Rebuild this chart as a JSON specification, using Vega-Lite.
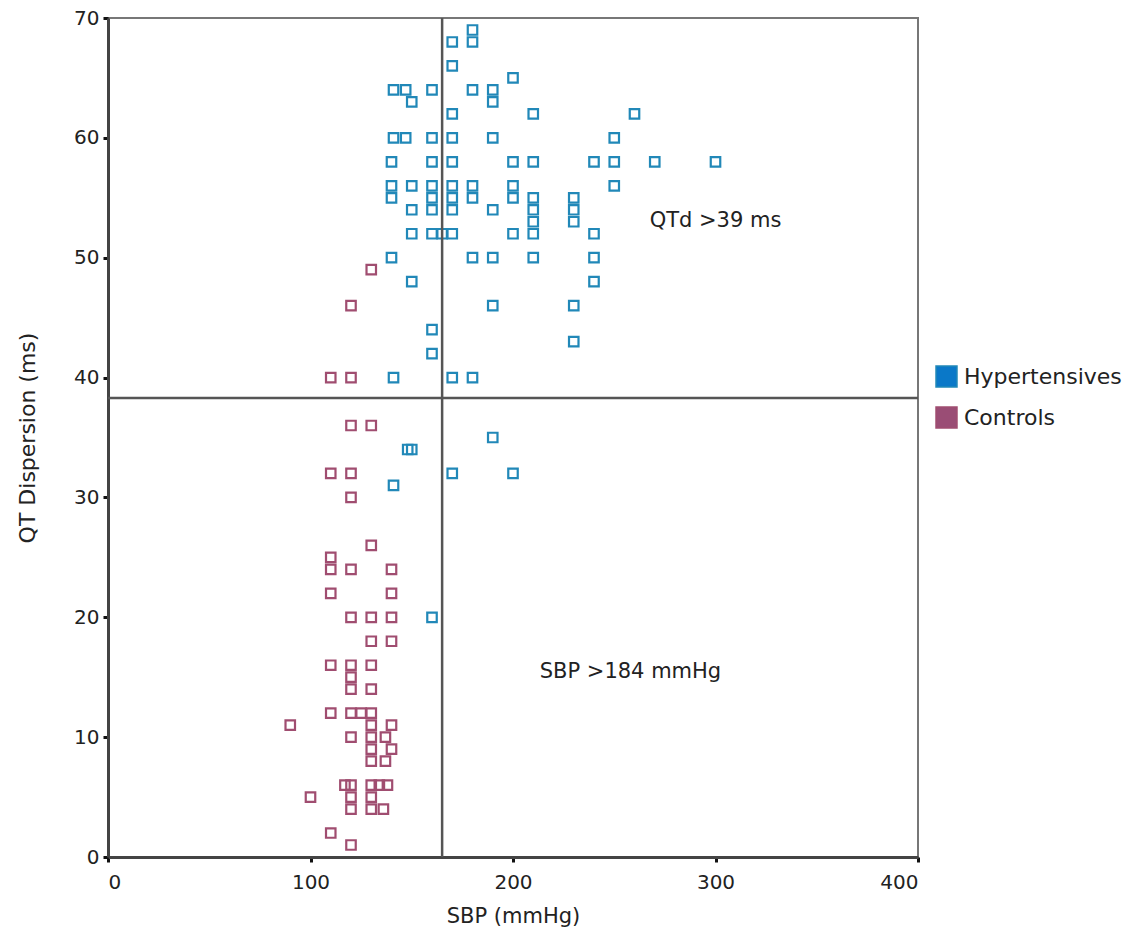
{
  "$schema": "https://vega.github.io/schema/vega-lite/v6.json",
  "autosize": "none",
  "width": 810,
  "height": 839,
  "padding": {"left": 108, "top": 18, "right": 215, "bottom": 71},
  "background": "white",
  "config": {
    "view": {"stroke": "#777", "strokeWidth": 2},
    "font": "DejaVu Sans"
  },
  "datasets": {
    "pts": [
      {"sbp": 180, "qtd": 69, "group": "Hypertensives"},
      {"sbp": 170, "qtd": 68, "group": "Hypertensives"},
      {"sbp": 180, "qtd": 68, "group": "Hypertensives"},
      {"sbp": 170, "qtd": 66, "group": "Hypertensives"},
      {"sbp": 200, "qtd": 65, "group": "Hypertensives"},
      {"sbp": 141, "qtd": 64, "group": "Hypertensives"},
      {"sbp": 147, "qtd": 64, "group": "Hypertensives"},
      {"sbp": 160, "qtd": 64, "group": "Hypertensives"},
      {"sbp": 180, "qtd": 64, "group": "Hypertensives"},
      {"sbp": 190, "qtd": 64, "group": "Hypertensives"},
      {"sbp": 150, "qtd": 63, "group": "Hypertensives"},
      {"sbp": 190, "qtd": 63, "group": "Hypertensives"},
      {"sbp": 170, "qtd": 62, "group": "Hypertensives"},
      {"sbp": 210, "qtd": 62, "group": "Hypertensives"},
      {"sbp": 260, "qtd": 62, "group": "Hypertensives"},
      {"sbp": 141, "qtd": 60, "group": "Hypertensives"},
      {"sbp": 147, "qtd": 60, "group": "Hypertensives"},
      {"sbp": 160, "qtd": 60, "group": "Hypertensives"},
      {"sbp": 170, "qtd": 60, "group": "Hypertensives"},
      {"sbp": 190, "qtd": 60, "group": "Hypertensives"},
      {"sbp": 250, "qtd": 60, "group": "Hypertensives"},
      {"sbp": 140, "qtd": 58, "group": "Hypertensives"},
      {"sbp": 160, "qtd": 58, "group": "Hypertensives"},
      {"sbp": 170, "qtd": 58, "group": "Hypertensives"},
      {"sbp": 200, "qtd": 58, "group": "Hypertensives"},
      {"sbp": 210, "qtd": 58, "group": "Hypertensives"},
      {"sbp": 240, "qtd": 58, "group": "Hypertensives"},
      {"sbp": 250, "qtd": 58, "group": "Hypertensives"},
      {"sbp": 270, "qtd": 58, "group": "Hypertensives"},
      {"sbp": 300, "qtd": 58, "group": "Hypertensives"},
      {"sbp": 140, "qtd": 56, "group": "Hypertensives"},
      {"sbp": 150, "qtd": 56, "group": "Hypertensives"},
      {"sbp": 160, "qtd": 56, "group": "Hypertensives"},
      {"sbp": 170, "qtd": 56, "group": "Hypertensives"},
      {"sbp": 180, "qtd": 56, "group": "Hypertensives"},
      {"sbp": 200, "qtd": 56, "group": "Hypertensives"},
      {"sbp": 250, "qtd": 56, "group": "Hypertensives"},
      {"sbp": 140, "qtd": 55, "group": "Hypertensives"},
      {"sbp": 160, "qtd": 55, "group": "Hypertensives"},
      {"sbp": 170, "qtd": 55, "group": "Hypertensives"},
      {"sbp": 180, "qtd": 55, "group": "Hypertensives"},
      {"sbp": 200, "qtd": 55, "group": "Hypertensives"},
      {"sbp": 210, "qtd": 55, "group": "Hypertensives"},
      {"sbp": 230, "qtd": 55, "group": "Hypertensives"},
      {"sbp": 150, "qtd": 54, "group": "Hypertensives"},
      {"sbp": 160, "qtd": 54, "group": "Hypertensives"},
      {"sbp": 170, "qtd": 54, "group": "Hypertensives"},
      {"sbp": 190, "qtd": 54, "group": "Hypertensives"},
      {"sbp": 210, "qtd": 54, "group": "Hypertensives"},
      {"sbp": 230, "qtd": 54, "group": "Hypertensives"},
      {"sbp": 210, "qtd": 53, "group": "Hypertensives"},
      {"sbp": 230, "qtd": 53, "group": "Hypertensives"},
      {"sbp": 150, "qtd": 52, "group": "Hypertensives"},
      {"sbp": 160, "qtd": 52, "group": "Hypertensives"},
      {"sbp": 165, "qtd": 52, "group": "Hypertensives"},
      {"sbp": 170, "qtd": 52, "group": "Hypertensives"},
      {"sbp": 200, "qtd": 52, "group": "Hypertensives"},
      {"sbp": 210, "qtd": 52, "group": "Hypertensives"},
      {"sbp": 240, "qtd": 52, "group": "Hypertensives"},
      {"sbp": 140, "qtd": 50, "group": "Hypertensives"},
      {"sbp": 180, "qtd": 50, "group": "Hypertensives"},
      {"sbp": 190, "qtd": 50, "group": "Hypertensives"},
      {"sbp": 210, "qtd": 50, "group": "Hypertensives"},
      {"sbp": 240, "qtd": 50, "group": "Hypertensives"},
      {"sbp": 150, "qtd": 48, "group": "Hypertensives"},
      {"sbp": 240, "qtd": 48, "group": "Hypertensives"},
      {"sbp": 190, "qtd": 46, "group": "Hypertensives"},
      {"sbp": 230, "qtd": 46, "group": "Hypertensives"},
      {"sbp": 160, "qtd": 44, "group": "Hypertensives"},
      {"sbp": 230, "qtd": 43, "group": "Hypertensives"},
      {"sbp": 160, "qtd": 42, "group": "Hypertensives"},
      {"sbp": 141, "qtd": 40, "group": "Hypertensives"},
      {"sbp": 170, "qtd": 40, "group": "Hypertensives"},
      {"sbp": 180, "qtd": 40, "group": "Hypertensives"},
      {"sbp": 190, "qtd": 35, "group": "Hypertensives"},
      {"sbp": 148, "qtd": 34, "group": "Hypertensives"},
      {"sbp": 150, "qtd": 34, "group": "Hypertensives"},
      {"sbp": 170, "qtd": 32, "group": "Hypertensives"},
      {"sbp": 200, "qtd": 32, "group": "Hypertensives"},
      {"sbp": 141, "qtd": 31, "group": "Hypertensives"},
      {"sbp": 160, "qtd": 20, "group": "Hypertensives"},
      {"sbp": 130, "qtd": 49, "group": "Controls"},
      {"sbp": 120, "qtd": 46, "group": "Controls"},
      {"sbp": 110, "qtd": 40, "group": "Controls"},
      {"sbp": 120, "qtd": 40, "group": "Controls"},
      {"sbp": 120, "qtd": 36, "group": "Controls"},
      {"sbp": 130, "qtd": 36, "group": "Controls"},
      {"sbp": 110, "qtd": 32, "group": "Controls"},
      {"sbp": 120, "qtd": 32, "group": "Controls"},
      {"sbp": 120, "qtd": 30, "group": "Controls"},
      {"sbp": 130, "qtd": 26, "group": "Controls"},
      {"sbp": 110, "qtd": 25, "group": "Controls"},
      {"sbp": 110, "qtd": 24, "group": "Controls"},
      {"sbp": 120, "qtd": 24, "group": "Controls"},
      {"sbp": 140, "qtd": 24, "group": "Controls"},
      {"sbp": 110, "qtd": 22, "group": "Controls"},
      {"sbp": 140, "qtd": 22, "group": "Controls"},
      {"sbp": 120, "qtd": 20, "group": "Controls"},
      {"sbp": 130, "qtd": 20, "group": "Controls"},
      {"sbp": 140, "qtd": 20, "group": "Controls"},
      {"sbp": 130, "qtd": 18, "group": "Controls"},
      {"sbp": 140, "qtd": 18, "group": "Controls"},
      {"sbp": 110, "qtd": 16, "group": "Controls"},
      {"sbp": 120, "qtd": 16, "group": "Controls"},
      {"sbp": 130, "qtd": 16, "group": "Controls"},
      {"sbp": 120, "qtd": 15, "group": "Controls"},
      {"sbp": 120, "qtd": 14, "group": "Controls"},
      {"sbp": 130, "qtd": 14, "group": "Controls"},
      {"sbp": 110, "qtd": 12, "group": "Controls"},
      {"sbp": 120, "qtd": 12, "group": "Controls"},
      {"sbp": 125, "qtd": 12, "group": "Controls"},
      {"sbp": 130, "qtd": 12, "group": "Controls"},
      {"sbp": 90, "qtd": 11, "group": "Controls"},
      {"sbp": 130, "qtd": 11, "group": "Controls"},
      {"sbp": 140, "qtd": 11, "group": "Controls"},
      {"sbp": 120, "qtd": 10, "group": "Controls"},
      {"sbp": 130, "qtd": 10, "group": "Controls"},
      {"sbp": 137, "qtd": 10, "group": "Controls"},
      {"sbp": 130, "qtd": 9, "group": "Controls"},
      {"sbp": 140, "qtd": 9, "group": "Controls"},
      {"sbp": 130, "qtd": 8, "group": "Controls"},
      {"sbp": 137, "qtd": 8, "group": "Controls"},
      {"sbp": 117, "qtd": 6, "group": "Controls"},
      {"sbp": 120, "qtd": 6, "group": "Controls"},
      {"sbp": 130, "qtd": 6, "group": "Controls"},
      {"sbp": 134, "qtd": 6, "group": "Controls"},
      {"sbp": 138, "qtd": 6, "group": "Controls"},
      {"sbp": 100, "qtd": 5, "group": "Controls"},
      {"sbp": 120, "qtd": 5, "group": "Controls"},
      {"sbp": 130, "qtd": 5, "group": "Controls"},
      {"sbp": 120, "qtd": 4, "group": "Controls"},
      {"sbp": 130, "qtd": 4, "group": "Controls"},
      {"sbp": 136, "qtd": 4, "group": "Controls"},
      {"sbp": 110, "qtd": 2, "group": "Controls"},
      {"sbp": 120, "qtd": 1, "group": "Controls"}
    ],
    "notes": [
      {"sbp": 300, "qtd": 53.1, "label": "QTd >39 ms"},
      {"sbp": 258, "qtd": 15.4, "label": "SBP >184 mmHg"}
    ],
    "cutoffs": [
      {"sbp_cut": 165, "qtd_cut": 38.3}
    ]
  },
  "layer": [
    {
      "data": {"name": "pts"},
      "mark": {"type": "point", "shape": "square", "filled": true, "size": 90, "opacity": 0},
      "encoding": {
        "x": {"field": "sbp", "type": "quantitative"},
        "y": {"field": "qtd", "type": "quantitative"},
        "fill": {
          "field": "group", "type": "nominal",
          "scale": {"domain": ["Hypertensives", "Controls"], "range": ["#0a78c8", "#9a4d75"]},
          "legend": {
            "title": null, "orient": "none", "legendX": 827, "legendY": 347,
            "symbolType": "square", "symbolSize": 440, "symbolOpacity": 1,
            "symbolStrokeColor": "#222", "symbolStrokeWidth": 1.5,
            "labelFontSize": 22, "labelColor": "#222", "labelOffset": 6,
            "rowPadding": 14
          }
        }
      }
    },
    {
      "data": {"name": "pts"},
      "mark": {"type": "point", "shape": "square", "filled": false, "size": 90, "strokeWidth": 2.2, "opacity": 1},
      "encoding": {
        "x": {
          "field": "sbp", "type": "quantitative",
          "scale": {"domain": [0, 400], "nice": false, "zero": false},
          "axis": {
            "title": "SBP (mmHg)", "values": [0, 100, 200, 300, 400],
            "grid": false, "domainColor": "#444", "domainWidth": 3,
            "tickColor": "#111", "tickWidth": 3, "tickSize": 5,
            "labelFontSize": 20, "labelColor": "#222", "labelPadding": 10,
            "titleFontSize": 21, "titleFontWeight": "normal", "titleColor": "#222", "titlePadding": 13
          }
        },
        "y": {
          "field": "qtd", "type": "quantitative",
          "scale": {"domain": [0, 70], "nice": false, "zero": false},
          "axis": {
            "title": "QT Dispersion (ms)", "values": [0, 10, 20, 30, 40, 50, 60, 70],
            "grid": false, "domainColor": "#444", "domainWidth": 3,
            "tickColor": "#111", "tickWidth": 3, "tickSize": 5,
            "labelFontSize": 20, "labelColor": "#222", "labelPadding": 4,
            "titleFontSize": 22, "titleFontWeight": "normal", "titleColor": "#222", "titlePadding": 34
          }
        },
        "color": {
          "field": "group", "type": "nominal",
          "scale": {"domain": ["Hypertensives", "Controls"], "range": ["#2188b8", "#a04d70"]},
          "legend": null
        }
      }
    },
    {
      "data": {"name": "cutoffs"},
      "mark": {"type": "rule", "color": "#555", "strokeWidth": 2.5},
      "encoding": {"x": {"field": "sbp_cut", "type": "quantitative"}}
    },
    {
      "data": {"name": "cutoffs"},
      "mark": {"type": "rule", "color": "#555", "strokeWidth": 2.5},
      "encoding": {"y": {"field": "qtd_cut", "type": "quantitative"}}
    },
    {
      "data": {"name": "notes"},
      "mark": {"type": "text", "fontSize": 21, "color": "#222"},
      "encoding": {
        "x": {"field": "sbp", "type": "quantitative"},
        "y": {"field": "qtd", "type": "quantitative"},
        "text": {"field": "label"}
      }
    }
  ]
}
